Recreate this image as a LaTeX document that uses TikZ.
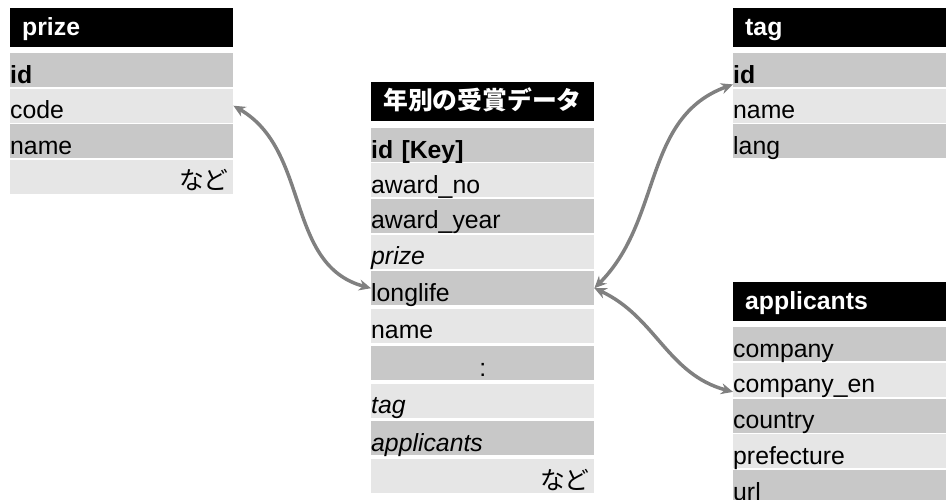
\documentclass[tikz,border=0pt]{standalone}
\usepackage{fontspec}
\setmainfont{Liberation Sans}
\newfontfamily\jp{Noto Sans CJK JP}
\usetikzlibrary{arrows.meta}

\definecolor{rowdark}{gray}{0.784}
\definecolor{rowlight}{gray}{0.902}
\definecolor{linkgray}{gray}{0.5}
\newcommand{\cellfont}{\fontsize{24.8}{28}\selectfont}

\begin{document}
\begin{tikzpicture}[x=1pt, y=-1pt,
  row/.style={anchor=north west, inner sep=0pt, minimum width=223pt, minimum height=34pt,
    text width=223pt, align=left, text height=26pt, text depth=0pt, font=\cellfont},
  dark/.style={row, fill=rowdark},
  light/.style={row, fill=rowlight},
  etc/.style={light, align=right, text width=214pt},
  title/.style={anchor=north west, fill=black, text=white, inner xsep=12pt, inner ysep=0pt,
    minimum height=39pt, text width=199pt, align=left, text height=22pt, text depth=7pt,
    font=\cellfont\bfseries},
  link/.style={{Stealth[length=12pt,width=11pt]}-{Stealth[length=12pt,width=11pt]},
    line width=3.5pt, draw=linkgray}
]
  \useasboundingbox (0,0) rectangle (946,499);
  \clip (0,0) rectangle (946,499);

  % prize
  \node[title] (prize) at (10,8) {prize};
  \node[dark] (pid) at (10,53) {\textbf{id}};
  \node[light] (pcode) at (10,88.5) {code};
  \node[dark] (pname) at (10,124) {name};
  \node[etc] (petc) at (10,159.5) {\jp など};

  % yearly award data
  \node[title] (data) at (371,82) {\jp\bfseries 年別の受賞データ};
  \node[dark] (did) at (371,128) {\textbf{id [Key]}};
  \node[light] (dno) at (371,163) {award\_no};
  \node[dark] (dyear) at (371,198.5) {award\_year};
  \node[light] (dprize) at (371,234.5) {\itshape prize};
  \node[dark] (dlong) at (371,271) {longlife};
  \node[light] (dname) at (371,308.5) {name};
  \node[dark, align=center] (ddots) at (371,346) {:};
  \node[light] (dtag) at (371,383.5) {\itshape tag};
  \node[dark] (dapp) at (371,421) {\itshape applicants};
  \node[etc] (detc) at (371,459) {\jp など};

  % tag
  \node[title] (tag) at (733,8) {tag};
  \node[dark] (tid) at (733,53) {\textbf{id}};
  \node[light] (tname) at (733,88.5) {name};
  \node[dark] (tlang) at (733,124) {lang};

  % applicants
  \node[title] (app) at (733,282) {applicants};
  \node[dark] (acomp) at (733,327) {company};
  \node[light] (acompen) at (733,362.5) {company\_en};
  \node[dark] (acountry) at (733,398.5) {country};
  \node[light] (apref) at (733,434) {prefecture};
  \node[dark] (aurl) at (733,470) {url};

  \draw[link] (pcode.east) to[out=-30, in=165] (dlong.west);
  \draw[link] (dlong.east) to[out=45, in=-160] ([yshift=3pt]tid.south west);
  \draw[link] (dlong.east) to[out=-25, in=165] ([yshift=5pt]acompen.south west);
\end{tikzpicture}
\end{document}
